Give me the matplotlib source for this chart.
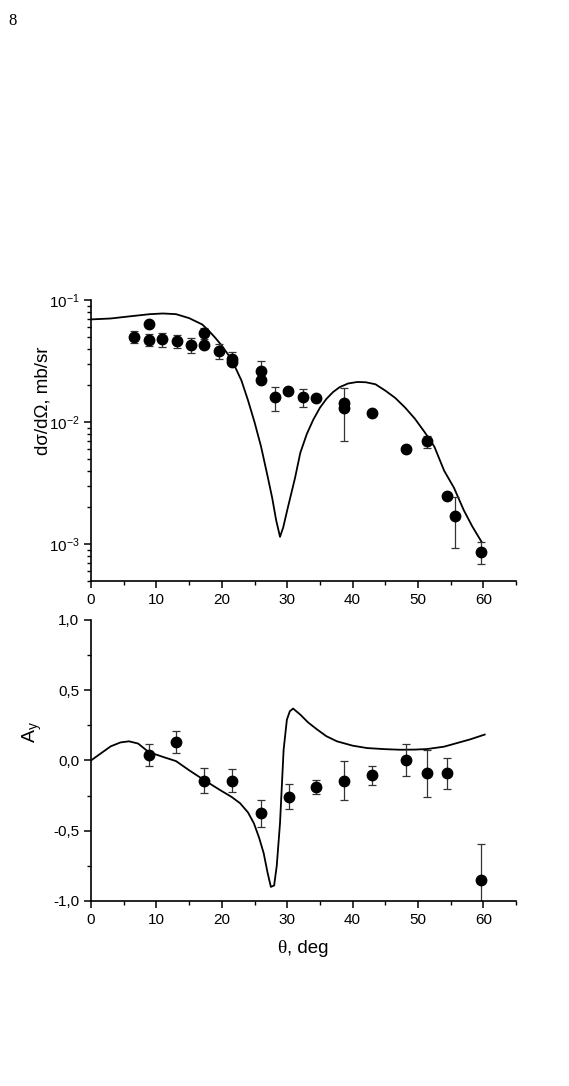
import numpy as np
import matplotlib
matplotlib.use("Agg")
import matplotlib.pyplot as plt
from matplotlib.ticker import MultipleLocator, FuncFormatter, LogLocator

plt.rcParams['font.family'] = ['Liberation Sans', 'DejaVu Sans']

# cross section data (deg, mb/sr)
theta_cs = [6.6, 8.8, 8.8, 10.9, 13.1, 15.3, 17.35, 17.35, 19.6, 21.6, 21.6,
            26.0, 26.0, 28.2, 30.1, 32.4, 34.4, 38.7, 38.7, 42.9, 48.2,
            51.35, 54.5, 55.6, 59.7]
cs = [0.0497, 0.064, 0.0467, 0.0482, 0.046, 0.0427, 0.0532, 0.0427, 0.038,
      0.0331, 0.0312, 0.0264, 0.0223, 0.016, 0.0181, 0.016, 0.0158, 0.01435,
      0.013, 0.0119, 0.0060, 0.00695, 0.0025, 0.0017, 0.000867]
cs_err_lo = [0.005, 0, 0.0048, 0.0071, 0.0059, 0.0057, 0.005, 0, 0.0054,
             0.004, 0, 0.004, 0, 0.0037, 0, 0.0026, 0, 0, 0.006, 0, 0.0003,
             0.0008, 0, 0.00077, 0.00018]
cs_err_hi = [0.0064, 0, 0.0063, 0.0058, 0.0053, 0.0064, 0.006, 0, 0.0053,
             0.0043, 0, 0.005, 0, 0.0035, 0, 0.0027, 0, 0, 0.006, 0, 0.0003,
             0.0008, 0, 0.00075, 0.00018]

# theory curve for cross section
theta_cs_th = [0, 3, 6, 9, 11, 13, 15, 17, 18, 19, 20, 21, 22, 23, 24, 25,
               26, 27, 27.7, 28.3, 28.9, 29.4, 30, 30.5, 31.2, 32, 33, 34,
               35, 36, 37, 38, 39.3, 40.7, 42, 43.5, 45, 46.5, 48, 49.5, 51,
               52.5, 54, 55.5, 57, 58.3, 59.7]
cs_th = [0.0693, 0.0705, 0.0735, 0.0765, 0.0775, 0.0765, 0.071, 0.063, 0.056,
         0.049, 0.0422, 0.0355, 0.0285, 0.0219, 0.0151, 0.0100, 0.0063,
         0.0036, 0.0024, 0.00158, 0.00115, 0.00138, 0.0019, 0.00245, 0.0035,
         0.0056, 0.0080, 0.0105, 0.0131, 0.0155, 0.0176, 0.0193, 0.0207,
         0.0213, 0.0212, 0.0204, 0.0181, 0.0158, 0.0132, 0.0107, 0.0083,
         0.0063, 0.0040, 0.0029, 0.0019, 0.0014, 0.00105]

# analyzing power data
theta_ay = [8.8, 13.0, 17.3, 21.6, 26.0, 30.2, 34.45, 38.7, 42.9, 48.2,
            51.35, 54.5, 59.7]
ay = [0.04, 0.13, -0.143, -0.143, -0.376, -0.257, -0.19, -0.143, -0.107,
      0.003, -0.093, -0.093, -0.854]
ay_err = [0.08, 0.077, 0.092, 0.085, 0.095, 0.09, 0.048, 0.137, 0.07,
          0.114, 0.166, 0.108, 0.26]

theta_ay_th = [0, 1.5, 3, 4.5, 5.8, 7.2, 8.8, 11, 13, 15, 17.3, 19.7, 21.5,
               22.8, 24.0, 24.9, 25.7, 26.4, 27.0, 27.5, 28.0, 28.4, 28.9,
               29.45, 29.95, 30.4, 30.9, 32.0, 33.2, 34.6, 36.0, 37.6, 40,
               42.2, 45, 47.3, 49.5, 51.4, 54, 56.0, 58, 60.2]
ay_th = [0.0, 0.05, 0.10, 0.128, 0.136, 0.12, 0.06, 0.025, -0.005, -0.07,
         -0.14, -0.21, -0.26, -0.305, -0.37, -0.447, -0.55, -0.66, -0.8,
         -0.9, -0.89, -0.75, -0.445, 0.076, 0.29, 0.35, 0.369, 0.326, 0.27,
         0.219, 0.172, 0.136, 0.105, 0.088, 0.08, 0.076, 0.077, 0.081,
         0.098, 0.124, 0.15, 0.184]

fig = plt.figure(figsize=(5.69, 10.86), dpi=100)
ax1 = fig.add_axes([0.16, 0.465, 0.747, 0.2588])
ax2 = fig.add_axes([0.16, 0.1704, 0.747, 0.2588])

err_kw = dict(fmt='o', color='black', ms=7.5, ecolor='#333333',
              elinewidth=0.9, capsize=3, capthick=0.9)

ax1.plot(theta_cs_th, cs_th, color='black', lw=1.3)
ax1.errorbar(theta_cs, cs, yerr=[cs_err_lo, cs_err_hi], **err_kw)
ax1.set_yscale('log')
ax1.set_ylim(5e-4, 0.1)
ax1.yaxis.set_major_locator(LogLocator(base=10))
ax1.yaxis.set_minor_locator(LogLocator(base=10, subs=np.arange(2, 10)))

ax2.plot(theta_ay_th, ay_th, color='black', lw=1.3)
ax2.errorbar(theta_ay, ay, yerr=ay_err, **err_kw)
ax2.set_ylim(-1.0, 1.0)
ax2.yaxis.set_major_locator(MultipleLocator(0.5))
ax2.yaxis.set_minor_locator(MultipleLocator(0.25))
ax2.yaxis.set_major_formatter(FuncFormatter(
    lambda v, p: f"{v:.1f}".replace('.', ',').replace('\u2212', '-')))

for ax in (ax1, ax2):
    ax.set_xlim(0, 65)
    ax.xaxis.set_major_locator(MultipleLocator(10))
    ax.xaxis.set_minor_locator(MultipleLocator(5))
    ax.xaxis.set_major_formatter(FuncFormatter(
        lambda v, p: f"{int(v)}" if v <= 60 else ""))
    ax.spines['top'].set_visible(False)
    ax.spines['right'].set_visible(False)
    ax.spines['left'].set_linewidth(1.2)
    ax.spines['bottom'].set_linewidth(1.2)
    ax.tick_params(which='major', direction='out', length=5, width=1.1,
                   labelsize=11)
    ax.tick_params(which='minor', direction='out', length=3, width=1.0)

ax1.set_ylabel('dσ/dΩ, mb/sr', fontsize=13.5, va='center')
ax1.yaxis.set_label_coords(-0.113, 0.64)
ax2.set_ylabel(r'A$_\mathregular{y}$', fontsize=14, va='center')
ax2.yaxis.set_label_coords(-0.139, 0.60)

fig.text(0.504, 0.127, 'θ', family='Liberation Serif', fontsize=14,
         ha='right', va='center')
fig.text(0.504, 0.127, ', deg', fontsize=13.5, ha='left', va='center')

fig.text(0.014, 0.988, '8', family='Liberation Serif', fontsize=12,
         ha='left', va='top')

fig.savefig('out.png', dpi=100)
